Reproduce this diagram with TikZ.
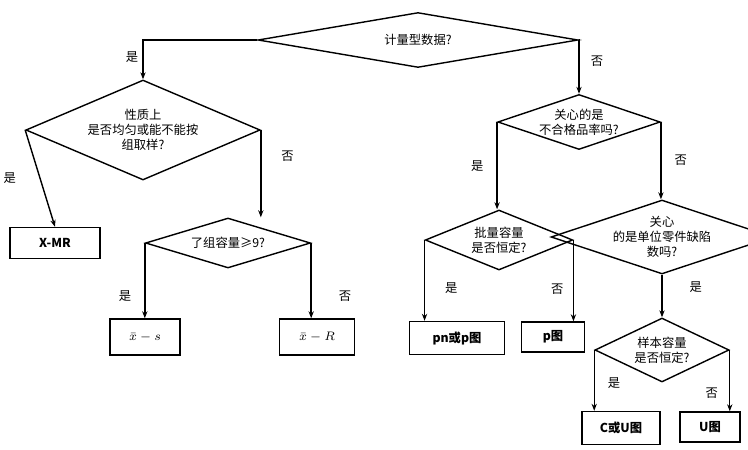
\documentclass[tikz,border=0pt]{standalone}
\usepackage{fontspec}
\newfontfamily\cjk{Noto Sans CJK SC}
\usetikzlibrary{shapes.geometric,arrows.meta}
\tikzset{
  dia/.style={diamond,draw,thick,inner sep=0pt,aspect=3,align=center,font=\cjk\fontsize{7}{8.5}\selectfont},
  box/.style={draw,thick,minimum height=0.62cm,align=center,font=\cjk\bfseries\fontsize{7}{8}\selectfont},
  lab/.style={font=\cjk\fontsize{7}{8}\selectfont},
  arr/.style={thick,-{Stealth[length=4pt,width=3pt]}}
}
\begin{document}
\begin{tikzpicture}[x=0.02cm,y=-0.02cm]
  \useasboundingbox (0,0) rectangle (748,450);
  % decision nodes
  \node[dia,minimum width=6.4cm,minimum height=1.1cm] (q1) at (418,40) {计量型数据?};
  \node[dia,minimum width=3.55cm,minimum height=2cm] (q2) at (143,130) {性质上\\是否均匀或能不能按\\组取样?};
  \node[dia,minimum width=3.3cm,minimum height=1cm] (q3) at (228,243) {了组容量≥9?};
  \node[dia,minimum width=3.25cm,minimum height=1.1cm] (q4) at (579,122) {关心的是\\不合格品率吗?};
  \node[dia,minimum width=2.95cm,minimum height=1.2cm] (q5) at (499,240) {批量容量\\是否恒定?};
  \node[dia,minimum width=3.1cm,minimum height=1.3cm] (q6) at (662,237) {关心\\的是单位零件缺陷\\数吗?};
  \node[dia,minimum width=2.5cm,minimum height=1.28cm] (q7) at (662,350) {样本容量\\是否恒定?};
  % result boxes
  \node[box,minimum width=1.8cm] (xmr) at (55,243) {X-MR};
  \node[box,minimum width=1.4cm,minimum height=0.72cm] (xs) at (145,337) {$\bar{x}-s$};
  \node[box,minimum width=1.5cm,minimum height=0.72cm] (xr) at (317,337) {$\bar{x}-R$};
  \node[box,minimum width=1.9cm,minimum height=0.66cm] (pn) at (457,338) {pn或p图};
  \node[box,minimum width=1.26cm,minimum height=0.6cm] (p) at (553,337) {p图};
  \node[box,minimum width=1.56cm,minimum height=0.66cm] (cu) at (621,428) {C或U图};
  \node[box,minimum width=1.2cm,minimum height=0.6cm] (u) at (710,427) {U图};
  % connectors
  \draw[arr] (q1.west) -| (q2.north) node[lab,pos=0.85,above left=-1pt] {是};
  \draw[arr] (q1.east) -| (q4.north) node[lab,pos=0.7,right=3pt] {否};
  \draw[arr] (q2.west) -- (xmr.north) node[lab,midway,left=10pt] {是};
  \draw[arr] (q2.east) -- (q2.east |- q3.north) node[lab,pos=0.3,right=8pt] {否};
  \draw[arr] (q3.west) -- (q3.west |- xs.north) node[lab,pos=0.7,left=4pt] {是};
  \draw[arr] (q3.east) -- (q3.east |- xr.north) node[lab,pos=0.7,right=12pt] {否};
  \draw[arr] (q4.west) -- (q4.west |- q5.north) node[lab,midway,left=4pt] {是};
  \draw[arr] (q4.east) -- (q4.east |- q6.north) node[lab,midway,right=4pt] {否};
  \draw[arr] (q5.west) -- (q5.west |- pn.north) node[lab,pos=0.6,right=8pt] {是};
  \draw[arr] (q5.east) -- (q5.east |- p.north) node[lab,pos=0.6,left=2pt] {否};
  \draw[arr] (q6.south) -- (q7.north) node[lab,pos=0.3,right=12pt] {是};
  \draw[arr] (q7.west) -- (q7.west |- cu.north) node[lab,pos=0.55,right=4pt] {是};
  \draw[arr] (q7.east) -- (q7.east |- u.north) node[lab,pos=0.7,left=3pt] {否};
\end{tikzpicture}
\end{document}
